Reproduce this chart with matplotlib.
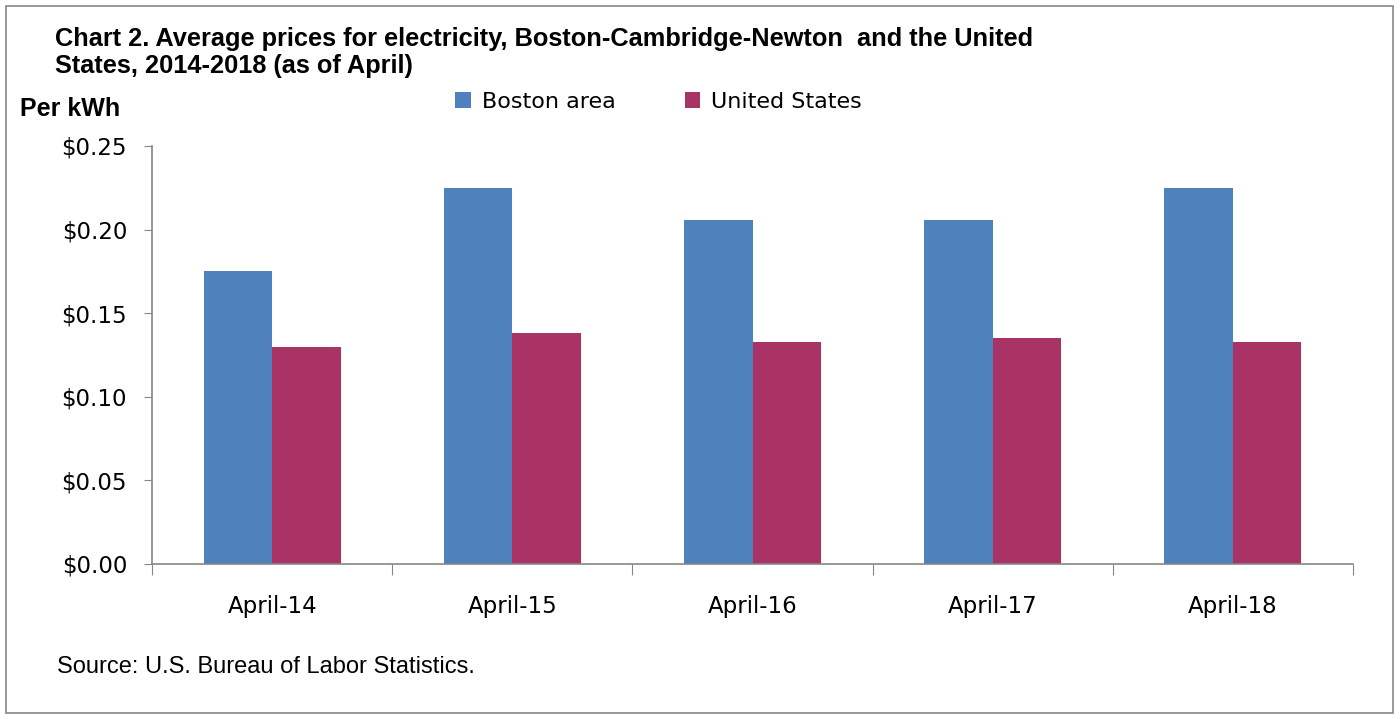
import matplotlib
matplotlib.use("Agg")
import matplotlib.pyplot as plt
import numpy as np
from matplotlib.patches import Rectangle

# data
categories = ["April-14", "April-15", "April-16", "April-17", "April-18"]
boston = [0.175, 0.225, 0.206, 0.206, 0.225]
united_states = [0.130, 0.138, 0.133, 0.135, 0.133]
series_names = ["Boston area", "United States"]

BLUE = "#4F81BD"
MAGENTA = "#AA3366"
GREY = "#868686"
NARROW = ["Liberation Sans", "DejaVu Sans"]

fig = plt.figure(figsize=(14, 7.19), dpi=100)
ax = fig.add_axes([0.1086, 0.2156, 0.8578, 0.5814])

x = np.arange(len(categories))
w = 1 / 3.5  # excel gap width 150%
ax.bar(x - w / 2, boston, width=w, color=BLUE, label=series_names[0])
ax.bar(x + w / 2, united_states, width=w, color=MAGENTA, label=series_names[1])

ax.set_xlim(-0.5, len(categories) - 0.5)
ax.set_ylim(0, 0.25)
ax.set_yticks(np.arange(0, 0.26, 0.05))
ax.set_yticklabels([f"${v:.2f}" for v in np.arange(0, 0.26, 0.05)], fontsize=16.5)

# category boundaries carry the ticks, labels sit centred in between
ax.set_xticks(np.arange(-0.5, len(categories)), minor=False)
ax.set_xticklabels([])
ax.set_xticks(x, minor=True)
ax.set_xticklabels(categories, minor=True, fontsize=16.5)
ax.tick_params(axis="x", which="major", length=8, color=GREY, direction="out")
ax.tick_params(axis="x", which="minor", length=0, pad=22)
ax.tick_params(axis="y", length=6, color=GREY, pad=12)

for side in ["top", "right"]:
    ax.spines[side].set_visible(False)
for side in ["left", "bottom"]:
    ax.spines[side].set_color(GREY)
    ax.spines[side].set_linewidth(1.2)

leg = fig.legend(loc="upper left", bbox_to_anchor=(0.311, 0.9), ncol=2,
                 frameon=False, fontsize=16, handlelength=0.7, handleheight=0.7,
                 handletextpad=0.5, columnspacing=3.1)

fig.text(0.039, 0.963, "Chart 2. Average prices for electricity, Boston-Cambridge-Newton  and the United\nStates, 2014-2018 (as of April)",
         family=NARROW, fontweight="bold", fontsize=18.3, va="top", linespacing=1.2)
fig.text(0.0145, 0.848, "Per kWh", family=NARROW, fontweight="bold", fontsize=18, va="center")
fig.text(0.041, 0.072, "Source: U.S. Bureau of Labor Statistics.", family=NARROW,
         fontsize=17, va="center")

# outer chart border
fig.patches.append(Rectangle((0.004, 0.008), 0.991, 0.984, transform=fig.transFigure,
                             fill=False, edgecolor=GREY, linewidth=1.2))

fig.savefig("out.png", dpi=100)
